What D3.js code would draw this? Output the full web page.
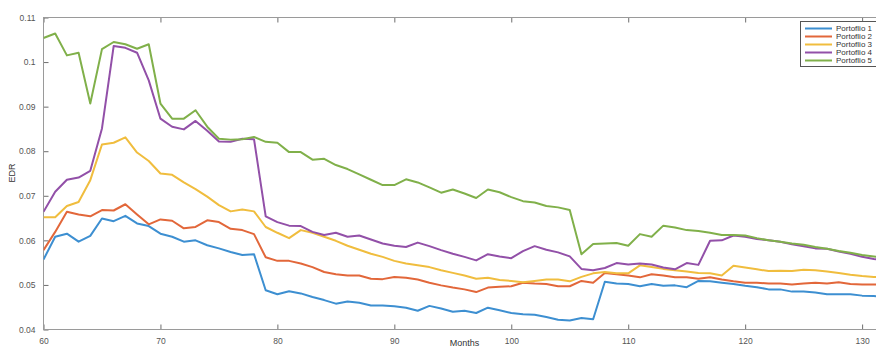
<!DOCTYPE html>
<html lang="en">
<head>
<meta charset="UTF-8">
<title>EDR by portfolio</title>
<script src="https://d3js.org/d3.v7.min.js"></script>
<style>
    body { margin: 0; background: #fff; }
    svg { display: block; font-family: "Liberation Sans", Arial, sans-serif; }
    .frame { fill: none; stroke: #9a9a9a; stroke-width: 1px; }
    .tick line { stroke: #6e6e6e; }
    .tick text { fill: #555; font-size: 8.5px; }
    .series { fill: none; stroke-width: 2px; stroke-linejoin: round; }
    .legend-box { fill: #fff; stroke: #555; stroke-width: 1px; }
    .legend text { fill: #333; font-size: 8px; }
    .label { fill: #333; font-size: 9px; }
</style>
</head>
<body>
<svg width="876" height="347"></svg>
<script>
// months on the x axis
const months = [60,61,62,63,64,65,66,67,68,69,70,71,72,73,74,75,76,77,78,79,80,81,82,83,84,85,86,87,88,89,
    90,91,92,93,94,95,96,97,98,99,100,101,102,103,104,105,106,107,108,109,110,111,112,113,114,115,116,117,118,119,
    120,121,122,123,124,125,126,127,128,129,130,131,132];

const portfolio1 = [0.0557,0.0608,0.0615,0.0597,0.0610,0.0649,0.0643,0.0655,0.0638,0.0632,
    0.0615,0.0608,0.0597,0.0600,0.0589,0.0582,0.0574,0.0567,0.0569,0.0488,
    0.0479,0.0486,0.0481,0.0473,0.0466,0.0458,0.0463,0.0460,0.0454,0.0454,
    0.0452,0.0449,0.0442,0.0453,0.0447,0.0440,0.0442,0.0437,0.0449,0.0443,
    0.0437,0.0434,0.0433,0.0428,0.0422,0.0420,0.0426,0.0423,0.0507,0.0503,
    0.0502,0.0497,0.0502,0.0498,0.0499,0.0495,0.0509,0.0508,0.0505,0.0502,
    0.0498,0.0495,0.0490,0.0490,0.0485,0.0485,0.0483,0.0479,0.0479,0.0479,
    0.0476,0.0475,0.0474];

const portfolio2 = [0.0578,0.0619,0.0664,0.0658,0.0654,0.0668,0.0667,0.0681,0.0658,0.0636,
    0.0647,0.0644,0.0627,0.0630,0.0645,0.0641,0.0626,0.0623,0.0614,0.0562,
    0.0554,0.0554,0.0548,0.0540,0.0529,0.0524,0.0521,0.0521,0.0514,0.0513,
    0.0518,0.0516,0.0512,0.0505,0.0499,0.0494,0.0490,0.0484,0.0494,0.0496,
    0.0497,0.0505,0.0503,0.0502,0.0497,0.0497,0.0509,0.0505,0.0527,0.0524,
    0.0521,0.0517,0.0524,0.0521,0.0517,0.0517,0.0514,0.0517,0.0512,0.0508,
    0.0505,0.0505,0.0503,0.0503,0.0501,0.0503,0.0505,0.0503,0.0506,0.0502,
    0.0501,0.0501,0.0500];

const portfolio3 = [0.0652,0.0652,0.0677,0.0686,0.0735,0.0815,0.0819,0.0831,0.0797,0.0778,
    0.0750,0.0747,0.0730,0.0715,0.0698,0.0679,0.0665,0.0669,0.0665,0.0630,
    0.0617,0.0605,0.0623,0.0617,0.0608,0.0599,0.0588,0.0579,0.0570,0.0563,
    0.0554,0.0548,0.0544,0.0540,0.0533,0.0527,0.0521,0.0514,0.0516,0.0511,
    0.0509,0.0506,0.0509,0.0512,0.0512,0.0508,0.0518,0.0526,0.0529,0.0526,
    0.0526,0.0544,0.0540,0.0536,0.0533,0.0530,0.0527,0.0526,0.0521,0.0543,
    0.0539,0.0535,0.0531,0.0532,0.0531,0.0534,0.0533,0.0530,0.0527,0.0523,
    0.0520,0.0518,0.0517];

const portfolio4 = [0.0664,0.0709,0.0736,0.0741,0.0756,0.0851,0.1036,0.1032,0.1021,0.0959,
    0.0873,0.0855,0.0849,0.0868,0.0846,0.0822,0.0821,0.0828,0.0827,0.0654,
    0.0641,0.0633,0.0632,0.0619,0.0612,0.0617,0.0608,0.0611,0.0602,0.0593,
    0.0588,0.0585,0.0595,0.0587,0.0578,0.0570,0.0563,0.0555,0.0569,0.0564,
    0.0560,0.0576,0.0587,0.0579,0.0573,0.0564,0.0536,0.0533,0.0538,0.0549,
    0.0546,0.0548,0.0546,0.0539,0.0535,0.0549,0.0545,0.0599,0.0600,0.0611,
    0.0608,0.0603,0.0600,0.0597,0.0591,0.0587,0.0582,0.0581,0.0575,0.0570,
    0.0563,0.0558,0.0555];

const portfolio5 = [0.1054,0.1064,0.1015,0.1021,0.0907,0.1029,0.1045,0.1040,0.1030,0.1040,
    0.0907,0.0873,0.0873,0.0892,0.0855,0.0828,0.0826,0.0827,0.0832,0.0821,
    0.0819,0.0798,0.0798,0.0781,0.0783,0.0769,0.0760,0.0748,0.0736,0.0724,
    0.0724,0.0737,0.0730,0.0719,0.0707,0.0714,0.0705,0.0695,0.0714,0.0708,
    0.0697,0.0688,0.0685,0.0677,0.0674,0.0668,0.0569,0.0592,0.0593,0.0594,
    0.0588,0.0614,0.0608,0.0633,0.0629,0.0623,0.0621,0.0617,0.0612,0.0612,
    0.0611,0.0605,0.0600,0.0597,0.0593,0.0590,0.0585,0.0581,0.0576,0.0572,
    0.0567,0.0564,0.0561];

const seriesNames = ["Portoflio 1", "Portoflio 2", "Portoflio 3", "Portoflio 4", "Portoflio 5"];
const seriesColors = ["#3d8fd1", "#e2673a", "#f0bd3e", "#9250a8", "#80b04a"];
const xTicks = [60, 70, 80, 90, 100, 110, 120, 130];
const yTicks = [0.04, 0.05, 0.06, 0.07, 0.08, 0.09, 0.10, 0.11];

const allSeries = [portfolio1, portfolio2, portfolio3, portfolio4, portfolio5];

// axes box (right edge runs a little past the window, like the original)
const boxLeft = 43.5, boxRight = 885.5, boxTop = 17.5, boxBottom = 329.5;

const svg = d3.select("svg");

const x = d3.scaleLinear().domain([60, 132]).range([boxLeft, boxRight]);
const y = d3.scaleLinear().domain([0.04, 0.11]).range([boxBottom, boxTop]);

svg.append("defs").append("clipPath").attr("id", "plot")
    .append("rect")
    .attr("x", boxLeft).attr("y", boxTop)
    .attr("width", boxRight - boxLeft).attr("height", boxBottom - boxTop);

const fmt = d => String(+d.toFixed(2));

// bottom and top axes, ticks pointing inward
svg.append("g")
    .attr("transform", `translate(0,${boxBottom})`)
    .call(d3.axisBottom(x).tickValues(xTicks).tickSize(-5).tickPadding(8).tickFormat(d3.format("d")))
    .call(g => g.select(".domain").remove());

svg.append("g")
    .attr("transform", `translate(0,${boxTop})`)
    .call(d3.axisTop(x).tickValues(xTicks).tickSize(-5).tickFormat(""))
    .call(g => g.select(".domain").remove());

svg.append("g")
    .attr("transform", `translate(${boxLeft},0)`)
    .call(d3.axisLeft(y).tickValues(yTicks).tickSize(-5).tickPadding(8).tickFormat(fmt))
    .call(g => g.select(".domain").remove());

svg.append("g")
    .attr("transform", `translate(${boxRight},0)`)
    .call(d3.axisRight(y).tickValues(yTicks).tickSize(-9).tickFormat(""))
    .call(g => g.select(".domain").remove());

svg.append("rect").attr("class", "frame")
    .attr("x", boxLeft).attr("y", boxTop)
    .attr("width", boxRight - boxLeft).attr("height", boxBottom - boxTop);

const line = d3.line()
    .x((d, i) => x(months[i]))
    .y(d => y(d));

svg.append("g").attr("clip-path", "url(#plot)")
    .selectAll("path")
    .data(allSeries)
    .join("path")
    .attr("class", "series")
    .attr("stroke", (d, i) => seriesColors[i])
    .attr("d", line);

// axis labels
svg.append("text").attr("class", "label")
    .attr("transform", "translate(15,173) rotate(-90)")
    .attr("text-anchor", "middle")
    .text("EDR");

svg.append("text").attr("class", "label")
    .attr("x", (boxLeft + boxRight) / 2).attr("y", 346)
    .attr("text-anchor", "middle")
    .text("Months");

// legend
const legend = svg.append("g").attr("class", "legend");
legend.append("rect").attr("class", "legend-box")
    .attr("x", 800.5).attr("y", 21.5).attr("width", 82).attr("height", 45);

const rows = legend.selectAll("g.row")
    .data(seriesNames)
    .join("g")
    .attr("class", "row")
    .attr("transform", (d, i) => `translate(0,${28.5 + i * 8})`);

rows.append("line")
    .attr("x1", 805).attr("x2", 832)
    .attr("stroke", (d, i) => seriesColors[i])
    .attr("stroke-width", 2);

rows.append("text")
    .attr("x", 836).attr("dy", "0.33em")
    .text(d => d);
</script>
</body>
</html>
